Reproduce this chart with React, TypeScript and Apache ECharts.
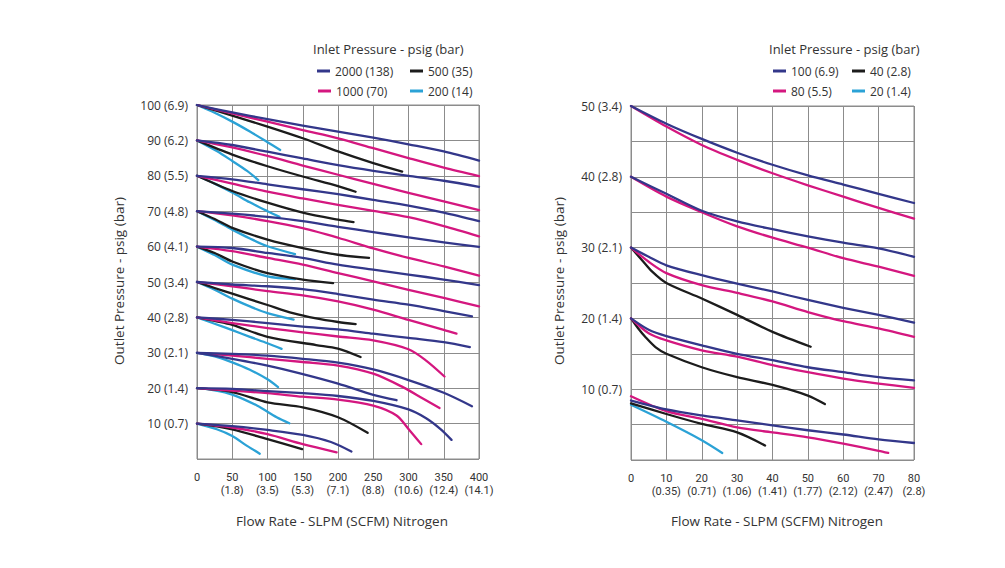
import React, { useEffect, useRef } from "react";
import * as echarts from "echarts";

// ---------- colours ----------
const NAVY = "#33378a";
const MAGENTA = "#d4177f";
const BLACK = "#1c1c1c";
const BLUE = "#2ba2d6";
const FONT = "'Open Sans', 'Noto Sans', sans-serif";
const TICK_FONT = "Roboto, 'Liberation Sans', sans-serif";

// ---------- tick labels ----------
const leftXLabels = ["0", "50", "100", "150", "200", "250", "300", "350", "400"];
const leftXScfm = ["", "(1.8)", "(3.5)", "(5.3)", "(7.1)", "(8.8)", "(10.6)", "(12.4)", "(14.1)"];
const leftYLabels = ["", "10 (0.7)", "20 (1.4)", "30 (2.1)", "40 (2.8)", "50 (3.4)", "60 (4.1)", "70 (4.8)", "80 (5.5)", "90 (6.2)", "100 (6.9)"];
const rightXLabels = ["0", "10", "20", "30", "40", "50", "60", "70", "80"];
const rightXScfm = ["", "(0.35)", "(0.71)", "(1.06)", "(1.41)", "(1.77)", "(2.12)", "(2.47)", "(2.8)"];
const rightYLabels = ["", "10 (0.7)", "20 (1.4)", "30 (2.1)", "40 (2.8)", "50 (3.4)"];

// ---------- legend names ----------
const leftNames = ["2000 (138)", "1000 (70)", "500 (35)", "200 (14)"];
const rightNames = ["100 (6.9)", "80 (5.5)", "40 (2.8)", "20 (1.4)"];

// ---------- left chart: inlet 2000 psig (navy) ----------
const left2000 = [
  [[0, 100], [50, 97.9], [100, 96.0], [150, 94.2], [200, 92.5], [250, 90.8], [300, 88.9], [350, 86.9], [400, 84.3]],
  [[0, 90], [50, 88.7], [100, 86.8], [150, 84.9], [200, 83.0], [250, 81.4], [300, 80.0], [350, 78.6], [400, 76.9]],
  [[0, 80], [50, 79.0], [100, 77.6], [150, 76.2], [200, 74.8], [250, 73.2], [300, 71.6], [350, 69.6], [400, 67.2]],
  [[0, 70], [50, 69.3], [100, 68.4], [150, 67.2], [200, 65.6], [250, 64.1], [300, 62.6], [350, 61.2], [400, 59.9]],
  [[0, 60], [50, 59.6], [100, 58.2], [150, 56.8], [200, 54.9], [250, 53.5], [300, 52.1], [350, 50.7], [400, 49.1]],
  [[0, 50], [50, 49.3], [100, 48.8], [150, 48.0], [200, 46.6], [250, 45.0], [300, 43.6], [350, 41.8], [390, 40.3]],
  [[0, 40], [50, 39.3], [100, 38.4], [150, 37.4], [200, 36.6], [250, 35.4], [300, 34.2], [350, 33.0], [387, 31.6]],
  [[0, 30], [50, 29.7], [100, 29.2], [150, 28.3], [200, 27.2], [250, 25.3], [300, 22.3], [350, 18.7], [390, 14.9]],
  [[0, 30], [50, 28.3], [100, 26.4], [146, 24.2], [200, 21.3], [250, 18.1], [283, 16.6]],
  [[0, 20], [50, 19.8], [100, 19.2], [150, 18.6], [200, 17.8], [250, 16.4], [300, 14.0], [325, 11.5], [345, 8.5], [361, 5.4]],
  [[0, 10], [50, 9.3], [100, 8.2], [150, 6.8], [190, 4.8], [219, 2.1]],
];

// ---------- left chart: inlet 1000 psig (magenta) ----------
const left1000 = [
  [[0, 100], [50, 97.6], [100, 95.3], [150, 92.9], [200, 90.6], [250, 87.8], [300, 85.0], [350, 82.3], [400, 79.9]],
  [[0, 90], [50, 88.0], [100, 85.6], [150, 82.9], [200, 80.3], [250, 77.7], [300, 75.2], [350, 72.8], [400, 70.3]],
  [[0, 80], [50, 77.8], [100, 75.5], [150, 73.6], [200, 71.8], [250, 70.1], [300, 68.3], [350, 65.8], [400, 62.9]],
  [[0, 70], [50, 68.8], [100, 67.2], [150, 65.2], [200, 62.5], [250, 59.5], [300, 56.8], [350, 54.4], [400, 51.8]],
  [[0, 60], [50, 58.7], [100, 56.8], [150, 54.9], [200, 52.5], [250, 50.2], [300, 47.8], [350, 45.5], [400, 43.1]],
  [[0, 50], [50, 48.8], [100, 47.4], [150, 46.2], [200, 44.5], [250, 42.2], [300, 39.3], [350, 36.5], [368, 35.4]],
  [[0, 40], [50, 38.4], [100, 37.0], [150, 35.8], [200, 34.6], [250, 33.5], [300, 31.0], [325, 27.8], [351, 23.3]],
  [[0, 30], [50, 29.2], [100, 28.3], [150, 27.4], [200, 26.4], [250, 24.1], [292, 20.3], [321, 17.0], [344, 14.4]],
  [[0, 20], [50, 19.3], [100, 18.6], [150, 17.6], [200, 16.8], [250, 15.1], [283, 12.3], [302, 8.0], [318, 4.2]],
  [[0, 10], [50, 8.9], [100, 7.0], [150, 4.2], [198, 1.9]],
];

// ---------- left chart: inlet 500 psig (black) ----------
const left500 = [
  [[0, 100], [50, 97.0], [100, 93.9], [150, 90.6], [200, 86.9], [250, 83.6], [291, 81.2]],
  [[0, 90], [50, 86.0], [100, 82.7], [150, 79.8], [200, 77.1], [225, 75.5]],
  [[0, 80], [50, 75.7], [100, 72.4], [150, 69.6], [200, 67.6], [222, 66.9]],
  [[0, 70], [25, 67.8], [50, 65.3], [100, 62.0], [150, 59.6], [200, 57.7], [244, 56.8]],
  [[0, 60], [25, 58.2], [50, 55.8], [100, 52.5], [150, 50.7], [193, 49.7]],
  [[0, 50], [25, 48.3], [50, 46.7], [100, 43.5], [136, 41.2], [169, 39.7], [200, 38.7], [225, 38.1]],
  [[0, 40], [25, 39.0], [50, 37.9], [100, 34.5], [169, 32.2], [200, 31.2], [232, 28.8]],
  [[0, 20], [50, 18.9], [100, 16.0], [150, 14.6], [200, 11.8], [242, 7.4]],
  [[0, 10], [50, 8.4], [100, 5.6], [149, 2.8]],
];

// ---------- left chart: inlet 200 psig (blue) ----------
const left200 = [
  [[0, 100], [25, 97.8], [50, 95.3], [75, 92.5], [100, 89.5], [118, 87.3]],
  [[0, 90], [28, 87.0], [50, 84.2], [71, 81.4], [87, 78.8]],
  [[0, 80], [25, 77.8], [50, 75.3], [75, 72.5], [100, 70.0], [117, 68.4]],
  [[0, 70], [25, 67.5], [50, 64.8], [75, 62.3], [100, 60.1], [139, 57.9]],
  [[0, 60], [25, 57.6], [50, 54.9], [100, 51.6], [139, 50.8]],
  [[0, 50], [25, 47.8], [50, 45.3], [75, 43.1], [100, 41.2], [137, 39.4]],
  [[0, 40], [25, 38.2], [50, 36.4], [75, 34.5], [100, 32.7], [120, 31.1]],
  [[0, 30], [25, 29.0], [50, 27.3], [75, 25.2], [100, 22.5], [115, 20.3]],
  [[0, 20], [25, 19.4], [50, 18.2], [85, 15.1], [113, 11.8], [131, 10.1]],
  [[0, 10], [28, 8.4], [50, 6.5], [71, 3.7], [89, 1.5]],
];

// ---------- right chart ----------
const right100 = [
  [[0, 50], [10, 47.5], [20, 45.35], [30, 43.4], [40, 41.7], [50, 40.2], [60, 38.9], [70, 37.6], [80, 36.3]],
  [[0, 40], [10, 37.6], [20, 35.2], [30, 33.7], [40, 32.6], [50, 31.6], [60, 30.7], [70, 29.9], [80, 28.7]],
  [[0, 30], [5, 28.7], [10, 27.5], [20, 26.1], [30, 24.9], [40, 23.8], [50, 22.6], [60, 21.5], [70, 20.5], [80, 19.4]],
  [[0, 20], [5, 18.4], [10, 17.5], [20, 16.2], [30, 15.0], [40, 14.1], [50, 13.1], [60, 12.4], [70, 11.7], [80, 11.25]],
  [[0, 8.4], [10, 7.15], [20, 6.3], [30, 5.6], [40, 4.9], [50, 4.2], [60, 3.6], [70, 2.9], [80, 2.4]],
];
const right80 = [
  [[0, 50], [10, 47.1], [20, 44.5], [30, 42.4], [40, 40.5], [50, 38.8], [60, 37.2], [70, 35.6], [80, 34.1]],
  [[0, 40], [10, 37.2], [20, 35.0], [30, 33.0], [40, 31.4], [50, 30.0], [60, 28.5], [70, 27.3], [80, 26.0]],
  [[0, 30], [5, 28.0], [10, 26.4], [20, 24.7], [30, 23.6], [40, 22.4], [50, 20.9], [60, 19.6], [70, 18.6], [80, 17.4]],
  [[0, 20], [5, 17.9], [10, 16.9], [20, 15.5], [30, 14.6], [40, 13.4], [50, 12.4], [60, 11.5], [70, 10.8], [80, 10.2]],
  [[0, 9.0], [10, 6.9], [20, 5.8], [30, 4.6], [40, 3.9], [50, 3.2], [60, 2.3], [70, 1.3], [72.7, 1.0]],
];
const right40 = [
  [[0, 30], [3, 28.3], [6, 26.6], [10, 25.0], [20, 22.8], [30, 20.5], [40, 18.1], [50.8, 16.0]],
  [[0, 20], [2, 18.6], [4, 17.4], [7, 15.9], [10, 15.0], [20, 13.1], [30, 11.7], [40, 10.6], [50, 9.1], [54.8, 7.9]],
  [[0, 8.0], [10, 6.5], [20, 5.1], [30, 3.9], [37.9, 2.05]],
];
const right20 = [
  [[0, 7.8], [10, 5.4], [20, 2.8], [25.8, 1.0]],
];

function makeSeries(curves: number[][][], name: string, color: string, idx: number) {
  return curves.map((d) => ({
    type: "line",
    name,
    xAxisIndex: idx,
    yAxisIndex: idx,
    data: d,
    smooth: 0.3,
    showSymbol: false,
    symbol: "none",
    color,
    lineStyle: { color, width: 2.3, cap: "round", join: "round" },
    emphasis: { disabled: true },
  }));
}

function legendItem(name: string, left: number, top: number) {
  return {
    left,
    top,
    padding: 0,
    itemWidth: 13,
    itemHeight: 3,
    icon: "rect",
    itemGap: 0,
    selectedMode: false,
    textStyle: { fontSize: 12, color: "#333", fontFamily: FONT },
    data: [name],
  };
}

const gridLine = { show: true, lineStyle: { color: "#8c8c8c", width: 1 } };
const labelStyle = { color: "#333", fontSize: 12, fontFamily: FONT };

function labelAxis(gridIndex: number, max: number, interval: number, labels: string[], margin: number, grid: boolean) {
  return {
    type: "value",
    gridIndex,
    position: "bottom",
    min: 0,
    max,
    interval,
    axisLine: { show: false },
    axisTick: { show: false },
    splitLine: grid ? gridLine : { show: false },
    axisLabel: {
      color: "#333",
      fontSize: 11,
      fontFamily: TICK_FONT,
      margin,
      formatter: (v: number) => labels[Math.round(v / interval)] ?? "",
    },
  };
}

export default function App() {
  const ref = useRef<HTMLDivElement>(null);
  useEffect(() => {
    if (!ref.current) return;
    const chart = echarts.init(ref.current, undefined, { renderer: "svg" });
    const series = [
      ...makeSeries(left200, leftNames[3], BLUE, 0),
      ...makeSeries(left500, leftNames[2], BLACK, 0),
      ...makeSeries(left1000, leftNames[1], MAGENTA, 0),
      ...makeSeries(left2000, leftNames[0], NAVY, 0),
      ...makeSeries(right20, rightNames[3], BLUE, 1),
      ...makeSeries(right40, rightNames[2], BLACK, 1),
      ...makeSeries(right80, rightNames[1], MAGENTA, 1),
      ...makeSeries(right100, rightNames[0], NAVY, 1),
    ];
    chart.setOption({
      animation: false,
      backgroundColor: "#ffffff",
      grid: [
        { left: 197, top: 105, width: 282, height: 354, show: true, borderColor: "#8c8c8c", borderWidth: 1, containLabel: false },
        { left: 631, top: 106, width: 283, height: 354, show: true, borderColor: "#8c8c8c", borderWidth: 1, containLabel: false },
      ],
      xAxis: [
        labelAxis(0, 400, 50, leftXLabels, 13, true),
        labelAxis(1, 80, 10, rightXLabels, 13, true),
        labelAxis(0, 400, 50, leftXScfm, 26, false),
        labelAxis(1, 80, 10, rightXScfm, 26, false),
      ],
      yAxis: [
        {
          type: "value", gridIndex: 0, min: 0, max: 100, interval: 10,
          axisLine: { show: false }, axisTick: { show: false }, splitLine: gridLine,
          axisLabel: { ...labelStyle, margin: 9, formatter: (v: number) => leftYLabels[Math.round(v / 10)] ?? "" },
        },
        {
          type: "value", gridIndex: 1, min: 0, max: 50, interval: 5,
          axisLine: { show: false }, axisTick: { show: false }, splitLine: gridLine,
          axisLabel: { ...labelStyle, margin: 9, formatter: (v: number) => (v % 10 === 0 ? rightYLabels[Math.round(v / 10)] ?? "" : "") },
        },
      ],
      legend: [
        legendItem(leftNames[0], 317, 65),
        legendItem(leftNames[2], 410, 65),
        legendItem(leftNames[1], 318, 85),
        legendItem(leftNames[3], 410, 85),
        legendItem(rightNames[0], 773, 65),
        legendItem(rightNames[2], 852, 65),
        legendItem(rightNames[1], 773, 85),
        legendItem(rightNames[3], 852, 85),
      ],
      graphic: [
        { type: "text", left: 313, top: 42, style: { text: "Inlet Pressure - psig (bar)", fill: "#333", font: `13px ${FONT}` } },
        { type: "text", left: 769, top: 42, style: { text: "Inlet Pressure - psig (bar)", fill: "#333", font: `13px ${FONT}` } },
        { type: "text", x: 119, y: 281, rotation: Math.PI / 2, style: { text: "Outlet Pressure - psig (bar)", fill: "#333", font: `13.5px ${FONT}`, align: "center", verticalAlign: "middle" } },
        { type: "text", x: 559, y: 281, rotation: Math.PI / 2, style: { text: "Outlet Pressure - psig (bar)", fill: "#333", font: `13.5px ${FONT}`, align: "center", verticalAlign: "middle" } },
        { type: "text", x: 342, y: 521, style: { text: "Flow Rate - SLPM (SCFM) Nitrogen", fill: "#333", font: `13.5px ${FONT}`, align: "center", verticalAlign: "middle" } },
        { type: "text", x: 777, y: 521, style: { text: "Flow Rate - SLPM (SCFM) Nitrogen", fill: "#333", font: `13.5px ${FONT}`, align: "center", verticalAlign: "middle" } },
      ],
      series,
    });
    return () => chart.dispose();
  }, []);
  return <div ref={ref} style={{ position: "fixed", left: 0, top: 0, width: 1005, height: 568, background: "#fff" }} />;
}
